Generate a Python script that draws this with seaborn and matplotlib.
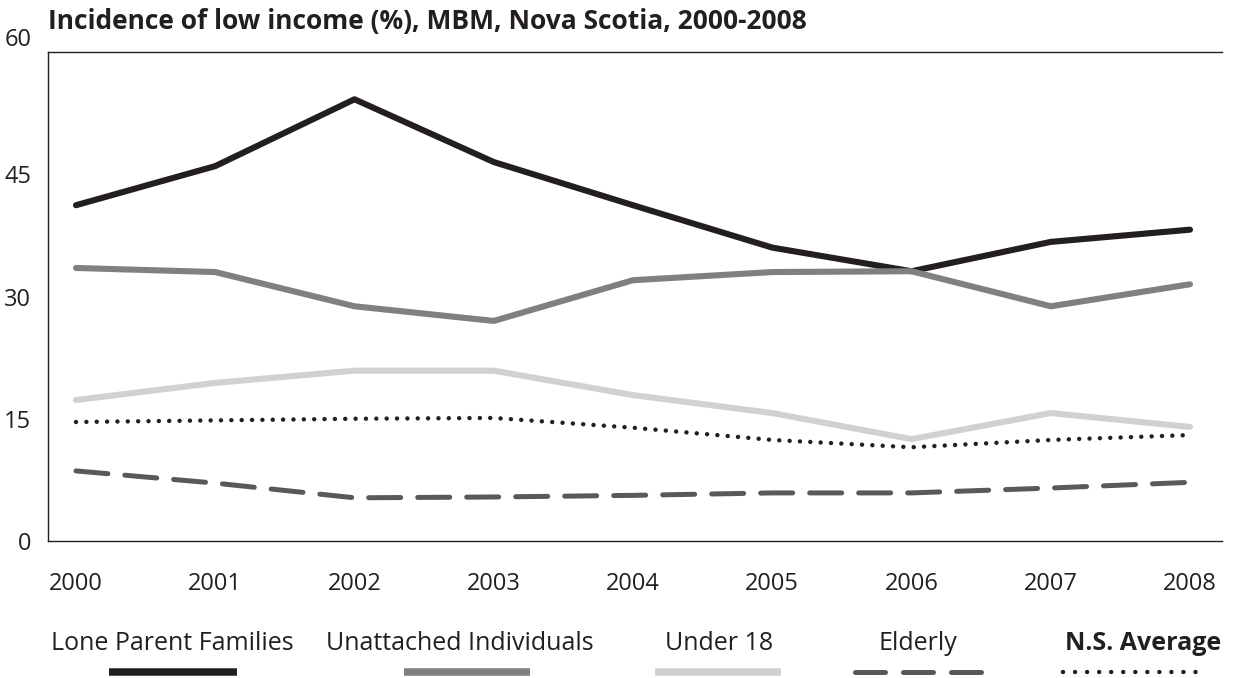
import matplotlib
matplotlib.use("Agg")
import matplotlib.pyplot as plt
from matplotlib.lines import Line2D
import seaborn as sns
import pandas as pd

years = [2000, 2001, 2002, 2003, 2004, 2005, 2006, 2007, 2008]
lone_parent = [41.2, 46.0, 54.2, 46.5, 41.2, 36.0, 33.1, 36.7, 38.2]
unattached = [33.5, 33.0, 28.8, 27.0, 32.0, 33.0, 33.1, 28.8, 31.5]
under_18 = [17.3, 19.4, 20.9, 20.9, 17.9, 15.7, 12.5, 15.7, 14.0]
elderly = [8.6, 7.1, 5.3, 5.4, 5.6, 5.9, 5.9, 6.5, 7.2]
ns_average = [14.6, 14.8, 15.0, 15.1, 13.9, 12.4, 11.5, 12.4, 13.0]
series_names = ["Lone Parent Families", "Unattached Individuals", "Under 18", "Elderly", "N.S. Average"]
yticks = [0, 15, 30, 45, 60]
title = "Incidence of low income (%), MBM, Nova Scotia, 2000-2008"

sns.set_style("white")
plt.rcParams['font.family'] = ['Open Sans', 'DejaVu Sans']

fig = plt.figure(figsize=(12.34, 6.78), dpi=100)
ax = fig.add_axes([48/1234, 1 - 541/678, (1222-48)/1234, (541-52)/678])

styles = [
    dict(color="#231f20", lw=4.4, dash=None, leg_dash=None),
    dict(color="#808083", lw=4.4, dash=None, leg_dash=None),
    dict(color="#d0d1d3", lw=4.4, dash=None, leg_dash=None),
    dict(color="#58595b", lw=3.6, dash=(6.4, 3.4), leg_dash=(6.0, 3.6)),
    dict(color="#231f20", lw=3.2, dash=(0.01, 2.32), leg_dash=(0.01, 2.7)),
]
data = [lone_parent, unattached, under_18, elderly, ns_average]

for name, vals, st in zip(series_names, data, styles):
    df = pd.DataFrame({"year": years, "value": vals})
    line_ax = sns.lineplot(data=df, x="year", y="value", ax=ax, color=st["color"],
                           lw=st["lw"], legend=False)
    ln = line_ax.lines[-1]
    ln.set_solid_capstyle("round")
    ln.set_dash_capstyle("round")
    if st["dash"] is not None:
        ln.set_dashes(st["dash"])

ax.set_xlim(2000 - 28/139.25, 2008 + 32/139.25)
ax.set_ylim(0, 60)
ax.set_yticks(yticks)
ax.set_yticklabels([str(t) for t in yticks])
ax.set_xticks(years)
ax.set_xticklabels([str(y) for y in years])
ax.set_xlabel("")
ax.set_ylabel("")
for side in ["left", "bottom", "top"]:
    ax.spines[side].set_visible(True)
    ax.spines[side].set_color("#231f20")
    ax.spines[side].set_linewidth(1.0)
ax.spines["right"].set_visible(False)
ax.tick_params(axis="both", length=0, labelsize=17, colors="#231f20")
ax.tick_params(axis="x", pad=22)
ax.tick_params(axis="y", pad=12)
for lbl in ax.get_yticklabels():
    if lbl.get_text() == "60":
        lbl.set_va("bottom")

fig.text(48/1234, 1 - 22/678, title, fontsize=19, fontweight="bold",
         color="#231f20", va="center", ha="left")

# legend: labels above line samples
label_x = [172, 460, 719, 918, 1143]
handle_x = [(109, 237), (404, 530), (655, 781), (855, 985), (1063, 1207)]
for name, st, lx, (h0, h1) in zip(series_names, styles, label_x, handle_x):
    bold = name == "N.S. Average"
    fig.text(lx/1234, 1 - 644/678, name, fontsize=18, ha="center", va="center",
             fontweight="bold" if bold else "normal", color="#231f20")
    l = Line2D([h0/1234, h1/1234], [1 - 672/678, 1 - 672/678], transform=fig.transFigure,
               color=st["color"], lw=st["lw"] + (1 if st["dash"] is None else 0))
    if st["leg_dash"] is not None:
        l.set_dashes(st["leg_dash"])
        l.set_dash_capstyle("round")
    else:
        l.set_solid_capstyle("butt")
    fig.add_artist(l)

fig.savefig("out.png", dpi=100)
